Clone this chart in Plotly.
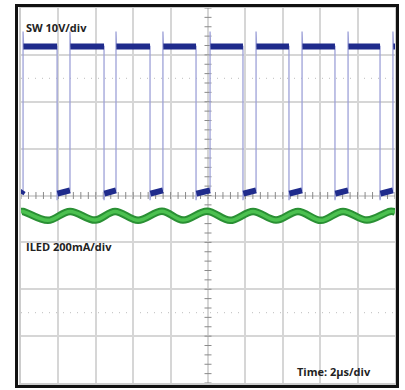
import numpy as np
import plotly.graph_objects as go

# scope settings
time_per_div_us = 2.0
sw_volts_per_div = 10.0
iled_ma_per_div = 200.0
iled_offset_div = -2.93

# SW node: edge times (us)
sw_rise_us = [0.11, 2.62, 5.08, 7.59, 10.11, 12.57, 15.03, 17.49, 19.89]
sw_fall_us = [1.93, 4.44, 6.90, 9.36, 11.87, 14.33, 16.79, 19.20]
sw_high_v = 31.8
sw_spike_v = 35.0
sw_low_start_v = 0.4
sw_low_end_v = 1.1
sw_undershoot_v = -1.0

# LED current ripple: peaks / valleys (us, mA)
iled_t_us = [0.0, 0.11, 1.44, 2.62, 3.96, 5.03, 6.26, 7.54, 8.66, 9.95,
             11.18, 12.41, 13.64, 14.81, 16.04, 17.22, 18.50, 19.73, 20.0]
iled_ma = [517, 518, 480, 518, 481, 518, 480, 519, 481, 519,
           480, 518, 481, 518, 480, 518, 481, 518, 516]

t_end = 10 * time_per_div_us


def sw_div(v):
    return v / sw_volts_per_div


# build the SW path
edge_x, edge_y = [0.0], [sw_div(sw_low_start_v)]
high_x, high_y = [], []
low_x = [0.0, sw_rise_us[0], None]
low_y = [sw_div(sw_low_start_v), sw_div(sw_low_end_v), None]
for i, r in enumerate(sw_rise_us):
    f = sw_fall_us[i] if i < len(sw_fall_us) else t_end
    edge_x += [r, r, r + 0.03, f]
    edge_y += [sw_div(sw_low_end_v), sw_div(sw_spike_v), sw_div(sw_high_v), sw_div(sw_high_v)]
    high_x += [r + 0.02, f, None]
    high_y += [sw_div(sw_high_v), sw_div(sw_high_v), None]
    if i < len(sw_fall_us):
        nxt = sw_rise_us[i + 1]
        edge_x += [f, f + 0.04]
        edge_y += [sw_div(sw_undershoot_v), sw_div(sw_low_start_v)]
        low_x += [f + 0.02, nxt, None]
        low_y += [sw_div(sw_low_start_v), sw_div(sw_low_end_v), None]

iled_div = [i / iled_ma_per_div + iled_offset_div for i in iled_ma]

fig = go.Figure()

# minor ticks on the centre graticule
yt = np.arange(-4, 4.001, 0.2)
xt = np.arange(0, t_end + 0.001, time_per_div_us / 5)
fig.add_trace(go.Scatter(x=[t_end / 2] * len(yt), y=yt, mode="markers",
                         marker=dict(symbol="line-ew", size=5, line=dict(width=1, color="#8a8a8a")),
                         hoverinfo="skip"))
fig.add_trace(go.Scatter(x=xt, y=[0] * len(xt), mode="markers",
                         marker=dict(symbol="line-ns", size=5, line=dict(width=1, color="#8a8a8a")),
                         hoverinfo="skip"))

# ILED
fig.add_trace(go.Scatter(x=iled_t_us, y=iled_div, mode="lines", line_shape="spline",
                         line=dict(color="#2a9034", width=7.5)))
fig.add_trace(go.Scatter(x=iled_t_us, y=iled_div, mode="lines", line_shape="spline",
                         line=dict(color="#4cc150", width=3.5)))

# SW
fig.add_trace(go.Scatter(x=edge_x, y=edge_y, mode="lines",
                         line=dict(color="#9ea2d8", width=1.3)))
fig.add_trace(go.Scatter(x=high_x, y=high_y, mode="lines",
                         line=dict(color="#1f2b8c", width=6)))
fig.add_trace(go.Scatter(x=low_x, y=low_y, mode="lines",
                         line=dict(color="#1f2b8c", width=6)))

fig.add_vline(x=t_end / 2, line_width=1, line_color="#9a9a9a", layer="below")
fig.add_hline(y=0, line_width=1, line_color="#9a9a9a", layer="below")
for yy in (2.5, -2.5):
    fig.add_hline(y=yy, line_width=1, line_dash="1px,6px", line_color="#bdbdbd", layer="below")

# outer black frame
fig.add_shape(type="rect", xref="paper", yref="paper",
              x0=-0.012, x1=1.0067, y0=-0.0093, y1=1.0067,
              line=dict(color="#111111", width=3))

label_font = dict(family="Open Sans", size=11, color="#222222")
fig.add_annotation(text="<b>SW 10V/div</b>", xref="paper", yref="paper",
                   x=0.008, y=0.947, xanchor="left", yanchor="middle",
                   showarrow=False, font=label_font)
fig.add_annotation(text="<b>ILED 200mA/div</b>", xref="paper", yref="paper",
                   x=0.008, y=0.365, xanchor="left", yanchor="middle",
                   showarrow=False, font=label_font)
fig.add_annotation(text="<b>Time: 2µs/div</b>", xref="paper", yref="paper",
                   x=0.94, y=0.03, xanchor="right", yanchor="middle",
                   showarrow=False, font=label_font)

fig.update_xaxes(range=[0, t_end], dtick=time_per_div_us, showticklabels=False,
                 showgrid=True, gridcolor="#d6d6d6", gridwidth=1.5, zeroline=False,
                 showline=True, mirror=True, linecolor="#cccccc", linewidth=1.5,
                 fixedrange=True)
fig.update_yaxes(range=[-4, 4], dtick=1, showticklabels=False,
                 showgrid=True, gridcolor="#d6d6d6", gridwidth=1.5, zeroline=False,
                 showline=True, mirror=True, linecolor="#cccccc", linewidth=1.5,
                 fixedrange=True)

fig.update_layout(
    width=405,
    height=390,
    margin=dict(l=21, r=10, t=8, b=7),
    paper_bgcolor="white",
    plot_bgcolor="white",
    showlegend=False,
)

fig.write_html("out.html", config={"displayModeBar": False},
               post_script="document.body.style.margin='0';")
